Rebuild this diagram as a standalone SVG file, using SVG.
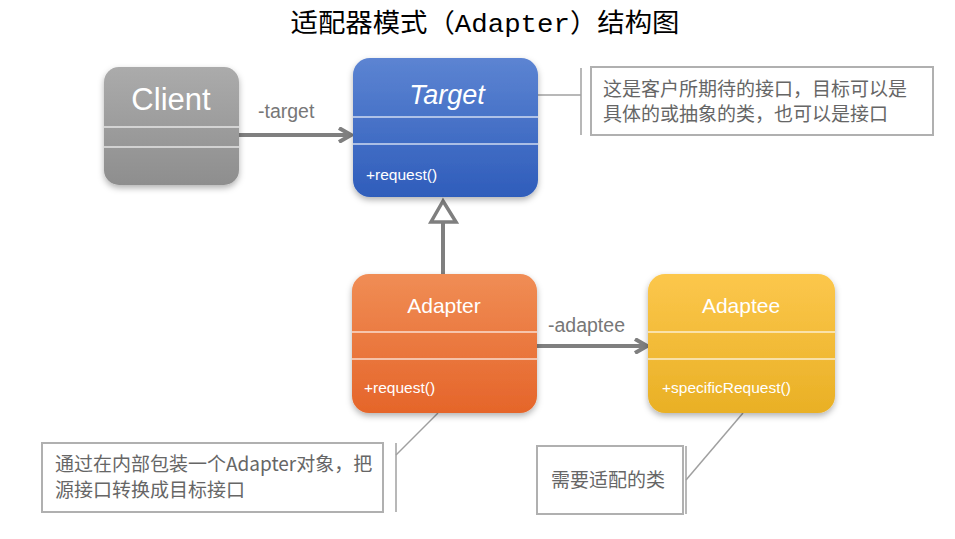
<svg xmlns="http://www.w3.org/2000/svg" width="955" height="539" viewBox="0 0 955 539">
<defs>
<linearGradient id="gGray" x1="0" y1="0" x2="0" y2="1"><stop offset="0" stop-color="#ababab"/><stop offset="1" stop-color="#8e8e8e"/></linearGradient>
<linearGradient id="gBlue" x1="0" y1="0" x2="0" y2="1"><stop offset="0" stop-color="#5c84d2"/><stop offset="1" stop-color="#2f5dbb"/></linearGradient>
<linearGradient id="gOrange" x1="0" y1="0" x2="0" y2="1"><stop offset="0" stop-color="#f08d55"/><stop offset="1" stop-color="#e5652a"/></linearGradient>
<linearGradient id="gYellow" x1="0" y1="0" x2="0" y2="1"><stop offset="0" stop-color="#fcc74c"/><stop offset="1" stop-color="#e9b025"/></linearGradient>
<filter id="sh" x="-10%" y="-10%" width="130%" height="130%"><feDropShadow dx="0" dy="3" stdDeviation="3" flood-color="#000" flood-opacity="0.3"/></filter>
<marker id="open" markerWidth="16" markerHeight="16" refX="14" refY="8" orient="auto" markerUnits="userSpaceOnUse"><path d="M2,1 L14,8 L2,15" fill="none" stroke="#7f7f7f" stroke-width="4"/></marker>
</defs>
<style>
.sep{stroke:#ffffff;stroke-opacity:0.75;stroke-width:1.5}
.name{font-family:"Liberation Sans","Noto Sans",sans-serif;fill:#fff;text-anchor:middle}
.op{font-family:"Liberation Sans","Noto Sans",sans-serif;fill:#fff;font-size:15.5px}
.conn{stroke:#7f7f7f;stroke-width:4;fill:none}
.lbl{font-family:"Liberation Sans","Noto Sans",sans-serif;fill:#777;font-size:19.5px}
.note{fill:#fff;stroke:#b0b0b0;stroke-width:2}
.ntext{font-family:"Noto Sans CJK SC","Liberation Sans",sans-serif;fill:#666;font-size:19px}
.thin{stroke:#a0a0a0;stroke-width:1.5;fill:none}
</style>
<rect width="955" height="539" fill="#fff"/>
<text x="485" y="32" text-anchor="middle" font-family="'Liberation Mono','Noto Sans CJK SC',monospace" font-size="26" fill="#000" textLength="389" lengthAdjust="spacingAndGlyphs">适配器模式（Adapter）结构图</text>

<g id="connectors">
<line class="conn" x1="239" y1="135" x2="351" y2="135" marker-end="url(#open)"/>
<line class="conn" x1="537" y1="346" x2="647" y2="346" marker-end="url(#open)"/>
<line x1="443" y1="222" x2="443" y2="274" stroke="#7f7f7f" stroke-width="4"/>
<path d="M443,201 L431,222 L456,222 Z" fill="#fff" stroke="#7f7f7f" stroke-width="3.5" stroke-linejoin="miter"/>
<text class="lbl" x="258" y="118">-target</text>
<text class="lbl" x="548" y="332">-adaptee</text>
<polyline class="thin" points="538,95 581,95"/>
<line class="thin" x1="581" y1="68" x2="581" y2="135"/>
<line class="thin" x1="396" y1="455" x2="438" y2="413"/>
<line class="thin" x1="396" y1="443" x2="396" y2="512"/>
<line class="thin" x1="686" y1="480" x2="743" y2="413"/>
<line class="thin" x1="686" y1="446" x2="686" y2="514"/>
</g>

<g id="client">
<rect x="104" y="67" width="135" height="118" rx="15" fill="url(#gGray)" filter="url(#sh)"/>
<line class="sep" x1="104" y1="127" x2="239" y2="127"/>
<line class="sep" x1="104" y1="147" x2="239" y2="147"/>
<text class="name" x="171" y="110" font-size="31">Client</text>
</g>

<g id="target">
<rect x="353" y="58" width="185" height="139" rx="17" fill="url(#gBlue)" filter="url(#sh)"/>
<line class="sep" x1="353" y1="117" x2="538" y2="117"/>
<line class="sep" x1="353" y1="144" x2="538" y2="144"/>
<text class="name" x="447" y="104" font-size="27" font-style="italic">Target</text>
<text class="op" x="366" y="180">+request()</text>
</g>

<g id="adapter">
<rect x="352" y="274" width="185" height="139" rx="17" fill="url(#gOrange)" filter="url(#sh)"/>
<line class="sep" x1="352" y1="332" x2="537" y2="332"/>
<line class="sep" x1="352" y1="359" x2="537" y2="359"/>
<text class="name" x="444" y="313" font-size="21">Adapter</text>
<text class="op" x="364" y="393">+request()</text>
</g>

<g id="adaptee">
<rect x="648" y="274" width="187" height="139" rx="17" fill="url(#gYellow)" filter="url(#sh)"/>
<line class="sep" x1="648" y1="332" x2="835" y2="332"/>
<line class="sep" x1="648" y1="359" x2="835" y2="359"/>
<text class="name" x="741" y="313" font-size="21">Adaptee</text>
<text class="op" x="662" y="393">+specificRequest()</text>
</g>

<g id="note-target">
<rect class="note" x="591" y="67" width="342" height="68"/>
<text class="ntext" x="603" y="96">这是客户所期待的接口，目标可以是</text>
<text class="ntext" x="603" y="121">具体的或抽象的类，也可以是接口</text>
</g>

<g id="note-adapter">
<rect class="note" x="42" y="443" width="341" height="69"/>
<text class="ntext" x="55" y="471" font-size="17.5">通过在内部包装一个Adapter对象，把</text>
<text class="ntext" x="55" y="497" font-size="17.5">源接口转换成目标接口</text>
</g>

<g id="note-adaptee">
<rect class="note" x="537" y="446" width="146" height="68"/>
<text class="ntext" x="551" y="487">需要适配的类</text>
</g>
</svg>
